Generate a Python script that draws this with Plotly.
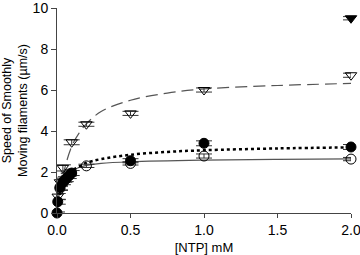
import plotly.graph_objects as go

# Open triangles
tri_x = [0.005, 0.02, 0.04, 0.1, 0.2, 0.5, 1.0, 2.0]
tri_y = [0.8, 1.5, 2.2, 3.45, 4.33, 4.86, 6.0, 6.72]
tri_e = [0.15, 0.15, 0.15, 0.12, 0.1, 0.1, 0.1, 0.1]
# Filled triangle
ftri_x = [2.0]
ftri_y = [9.5]
ftri_e = [0.08]
# Filled circles
fc_x = [0, 0.005, 0.02, 0.04, 0.06, 0.08, 0.1, 0.5, 1.0, 2.0]
fc_y = [0, 0.55, 1.25, 1.5, 1.65, 1.8, 1.95, 2.55, 3.4, 3.22]
fc_e = [0.05, 0.12, 0.12, 0.12, 0.12, 0.12, 0.12, 0.1, 0.12, 0.12]
# Open circles
oc_x = [0.02, 0.05, 0.08, 0.2, 0.5, 1.0, 2.0]
oc_y = [1.2, 1.6, 1.9, 2.3, 2.42, 2.78, 2.63]
oc_e = [0.1, 0.1, 0.1, 0.08, 0.08, 0.1, 0.08]

# Fitted curves
dash_x = [0, 0.02, 0.05, 0.1, 0.15, 0.2, 0.3, 0.5, 0.75, 1.0, 1.5, 2.0]
dash_y = [0, 1.0, 2.1, 3.25, 3.9, 4.35, 4.95, 5.5, 5.85, 6.05, 6.22, 6.32]
solid_x = [0, 0.02, 0.05, 0.1, 0.15, 0.2, 0.3, 0.5, 1.0, 1.5, 2.0]
solid_y = [0, 1.1, 1.7, 2.05, 2.22, 2.32, 2.42, 2.5, 2.58, 2.62, 2.64]
dot_x = [0, 0.02, 0.05, 0.1, 0.16, 0.2, 0.3, 0.5, 0.75, 1.0, 1.5, 2.0]
dot_y = [0, 0.95, 1.6, 2.05, 2.3, 2.45, 2.63, 2.84, 2.98, 3.06, 3.15, 3.2]

fig = go.Figure()
fig.add_trace(go.Scatter(x=dash_x, y=dash_y, mode="lines", line_shape="spline",
                         line=dict(color="#555555", width=1.2, dash="12px,6px")))
fig.add_trace(go.Scatter(x=solid_x, y=solid_y, mode="lines", line_shape="spline",
                         line=dict(color="#555555", width=1.2)))
fig.add_trace(go.Scatter(x=dot_x, y=dot_y, mode="lines", line_shape="spline",
                         line=dict(color="black", width=2.5, dash="dot")))

def pts(x, y, e, symbol, size):
    return go.Scatter(x=x, y=y, mode="markers", cliponaxis=False,
                      marker=dict(symbol=symbol, size=size, color="black",
                                  line=dict(color="black", width=1)),
                      error_y=dict(type="data", array=e, visible=True,
                                   color="#333333", thickness=1, width=8))

fig.add_trace(pts(tri_x, tri_y, tri_e, "triangle-down-open", 10))
fig.add_trace(pts(ftri_x, ftri_y, ftri_e, "triangle-down", 10))
fig.add_trace(pts(oc_x, oc_y, oc_e, "circle-open", 10))
fig.add_trace(pts(fc_x, fc_y, fc_e, "circle", 10))

font = "Liberation Sans, Arial, sans-serif"
fig.update_layout(
    width=360, height=255, margin=dict(l=57, r=9, t=8, b=42, autoexpand=False),
    paper_bgcolor="white", plot_bgcolor="white", showlegend=False,
    font=dict(family=font, color="black", size=14),
    xaxis=dict(range=[0, 2.0], tickvals=[0, 0.5, 1.0, 1.5, 2.0],
               ticktext=["0.0", "0.5", "1.0", "1.5", "2.0"],
               ticklabeloverflow="allow", automargin=False,
               showline=True, linecolor="#444444", linewidth=1, ticks="outside",
               ticklen=4, tickcolor="#444444", showgrid=False, zeroline=False,
               title=dict(text="[NTP] mM", font=dict(size=13), standoff=8)),
    yaxis=dict(range=[0, 10], tickvals=[0, 2, 4, 6, 8, 10],
               ticklabeloverflow="allow", automargin=False,
               showline=True, linecolor="#444444", linewidth=1, ticks="outside",
               ticklen=5, tickcolor="#444444", showgrid=False, zeroline=False,
               title=dict(text="Speed of Smoothly<br>Moving filaments (µm/s)",
                          font=dict(size=12.5), standoff=6)),
)
fig.write_html("out.html", config={"displayModeBar": False},
               post_script="document.body.style.margin='0';document.body.style.overflow='hidden';")
